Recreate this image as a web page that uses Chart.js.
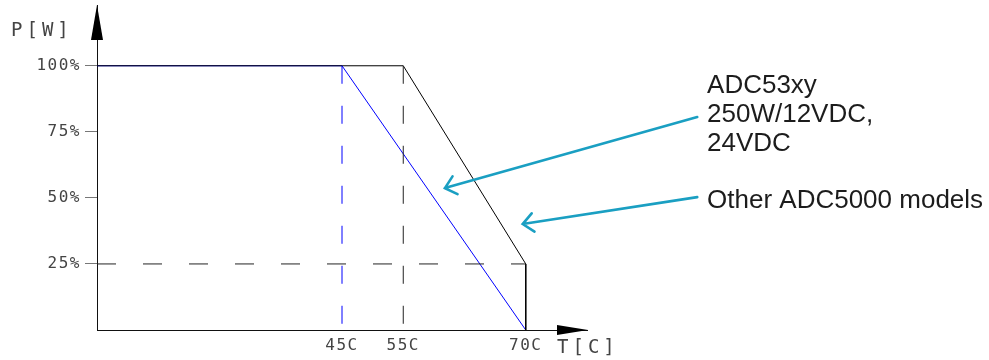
<!DOCTYPE html>
<html>
<head>
<meta charset="utf-8">
<script src="https://cdn.jsdelivr.net/npm/chart.js@4/dist/chart.umd.min.js"></script>
<style>
  html, body { margin: 0; padding: 0; background: #fff; }
  #derating { display: block; }
</style>
</head>
<body>
<canvas id="derating" width="989" height="360"></canvas>
<script>

// temperature marks, placed where the drawing puts them (schematic x units)
var tempLabels = ['45C', '55C', '70C'];
var tempPos    = [40, 50, 70];

// power ticks, percent of rated power
var powerTicks = [25, 50, 75, 100];

// ADC53xy 250W/12VDC, 24VDC derating curve
var adc53X = [0, 40, 70];
var adc53Y = [100, 100, 0];

// other ADC5000 models
var otherX = [0, 50, 70, 70];
var otherY = [100, 100, 25, 0];

// dashed construction lines
var guide45X = [40, 40];
var guide45Y = [100, 0];
var guide55X = [50, 50];
var guide55Y = [100, 0];
var guide25X = [0, 70];
var guide25Y = [25, 25];

// callouts: text lines, where the text sits and where the arrows start / point to
var noteText1  = ['ADC53xy', '250W/12VDC,', '24VDC'];
var noteText2  = ['Other ADC5000 models'];
var noteAt1    = [99.6, 89.6];
var noteAt2    = [99.6, 46.1];
var noteFrom1  = [98, 80.6];
var noteTip1   = [56.8, 53.7];
var noteFrom2  = [98, 50.3];
var noteTip2   = [69.5, 40.1];


function xy(xs, ys) {
    return xs.map(function (x, i) { return { x: x, y: ys[i] }; });
}

function line_set(xs, ys, color, dash) {
    return {
        data: xy(xs, ys),
        borderColor: color,
        borderWidth: 1,
        borderDash: dash || [],
        pointRadius: 0,
        fill: false,
        tension: 0
    };
}

var CAD_FONT = '"DejaVu Sans Mono", "Liberation Mono", monospace';
var TEAL = '#1a9fc2';

function draw_callout(ctx, sx, sy, from, tip, at, lines) {
    var x0 = sx.getPixelForValue(from[0]), y0 = sy.getPixelForValue(from[1]);
    var x1 = sx.getPixelForValue(tip[0]),  y1 = sy.getPixelForValue(tip[1]);

    ctx.save();
    ctx.strokeStyle = TEAL;
    ctx.lineWidth = 2.6;
    ctx.lineCap = 'round';
    ctx.beginPath();
    ctx.moveTo(x0, y0);
    ctx.lineTo(x1, y1);
    var ang = Math.atan2(y0 - y1, x0 - x1);
    var wing = 14, spread = 0.72;
    ctx.moveTo(x1 + wing * Math.cos(ang - spread), y1 + wing * Math.sin(ang - spread));
    ctx.lineTo(x1, y1);
    ctx.lineTo(x1 + wing * Math.cos(ang + spread), y1 + wing * Math.sin(ang + spread));
    ctx.stroke();

    ctx.fillStyle = '#1c1c1c';
    ctx.font = '26px "Liberation Sans", Arial, sans-serif';
    ctx.textAlign = 'left';
    ctx.textBaseline = 'alphabetic';
    var tx = sx.getPixelForValue(at[0]), ty = sy.getPixelForValue(at[1]);
    lines.forEach(function (t, i) {
        ctx.fillText(t, tx, ty + i * 29);
    });
    ctx.restore();
}

var axisDecor = {
    id: 'axisDecor',
    beforeDraw: function (chart) {
        // CAD style lettering is wide, spread the tick labels a bit
        chart.ctx.letterSpacing = '1.5px';
    },
    afterDraw: function (chart) {
        var ctx = chart.ctx;
        var sx = chart.scales.x, sy = chart.scales.y;
        var ox = sx.getPixelForValue(0), oy = sy.getPixelForValue(0);
        var topY = sy.getPixelForValue(sy.max);
        var endX = sx.getPixelForValue(sx.max);

        ctx.save();
        ctx.fillStyle = '#000';
        // y arrow
        ctx.beginPath();
        ctx.moveTo(ox, topY);
        ctx.lineTo(ox - 6, topY + 35);
        ctx.lineTo(ox + 6, topY + 35);
        ctx.closePath();
        ctx.fill();
        // x arrow
        ctx.beginPath();
        ctx.moveTo(endX + 1, oy);
        ctx.lineTo(endX - 30, oy - 5);
        ctx.lineTo(endX - 30, oy + 5);
        ctx.closePath();
        ctx.fill();

        // axis names
        ctx.fillStyle = '#444';
        ctx.font = '19px ' + CAD_FONT;
        ctx.letterSpacing = '4px';
        ctx.textBaseline = 'alphabetic';
        ctx.textAlign = 'left';
        ctx.fillText('P[W]', 11, topY + 31);
        ctx.fillText('T[C]', endX - 30, oy + 23);
        ctx.restore();
        ctx.letterSpacing = '0px';

        draw_callout(ctx, sx, sy, noteFrom1, noteTip1, noteAt1, noteText1);
        draw_callout(ctx, sx, sy, noteFrom2, noteTip2, noteAt2, noteText2);
    }
};

var chart = new Chart(document.getElementById('derating').getContext('2d'), {
    type: 'line',
    data: {
        datasets: [
            line_set(guide25X, guide25Y, '#222', [19, 27]),
            line_set(guide55X, guide55Y, '#222', [18, 22]),
            line_set(guide45X, guide45Y, '#0000ff', [18, 22]),
            line_set(otherX, otherY, '#000'),
            line_set(adc53X, adc53Y, '#0000ff')
        ]
    },
    options: {
        responsive: false,
        animation: false,
        devicePixelRatio: 1,
        layout: { padding: { top: 5, right: 402, bottom: 0, left: 0 } },
        plugins: {
            legend: { display: false },
            tooltip: { enabled: false }
        },
        scales: {
            x: {
                type: 'linear',
                min: 0,
                max: 80,
                afterBuildTicks: function (scale) {
                    scale.ticks = tempPos.map(function (v) { return { value: v }; });
                },
                afterFit: function (scale) {
                    scale.height = 30;
                    scale.paddingLeft = 0;
                    scale.paddingRight = 0;
                },
                grid: { display: false },
                border: { display: true, color: '#111', width: 1 },
                ticks: {
                    padding: -2,
                    maxRotation: 0,
                    autoSkip: false,
                    color: '#444',
                    font: { family: CAD_FONT, size: 16 },
                    callback: function (value, index) { return tempLabels[index]; }
                }
            },
            y: {
                type: 'linear',
                min: 0,
                max: 123,
                afterBuildTicks: function (scale) {
                    scale.ticks = powerTicks.map(function (v) { return { value: v }; });
                },
                afterFit: function (scale) {
                    scale.width = 97;
                    scale.paddingTop = 0;
                    scale.paddingBottom = 0;
                },
                grid: {
                    display: true,
                    drawOnChartArea: false,
                    drawTicks: true,
                    tickLength: 12,
                    color: '#777'
                },
                border: { display: true, color: '#111', width: 1 },
                ticks: {
                    padding: 4,
                    color: '#444',
                    font: { family: CAD_FONT, size: 16 },
                    callback: function (value) { return value + '%'; }
                }
            }
        }
    },
    plugins: [axisDecor]
});

</script>
</body>
</html>
